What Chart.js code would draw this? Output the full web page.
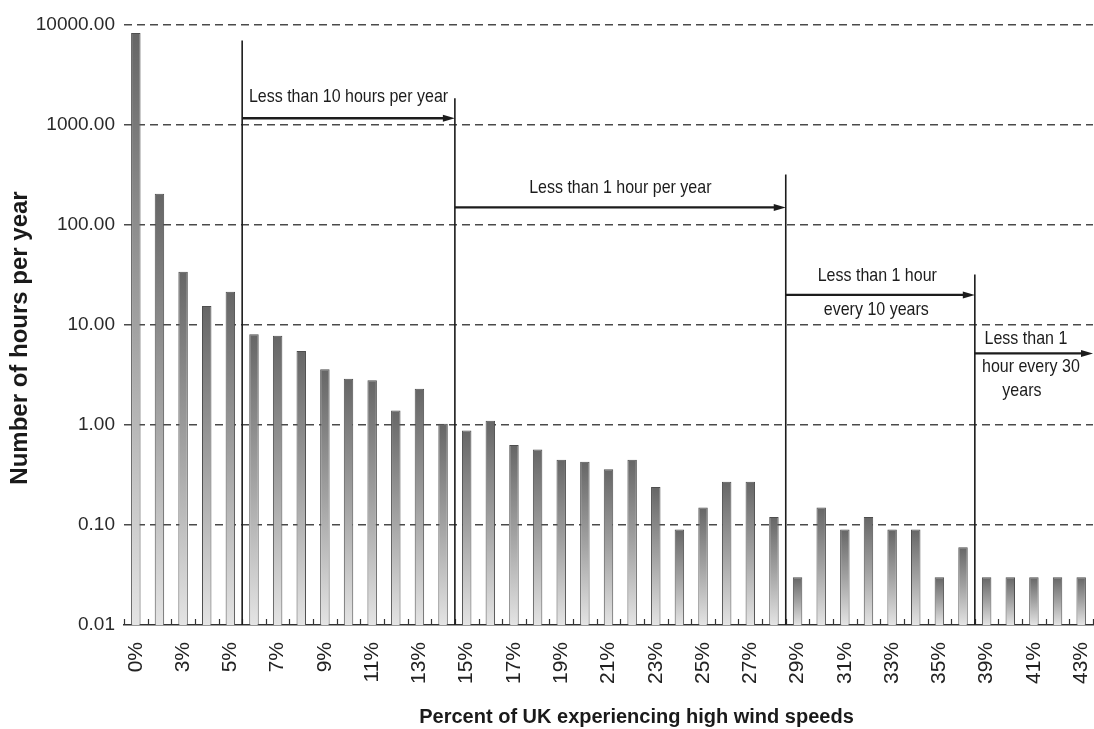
<!DOCTYPE html>
<html>
<head>
<meta charset="utf-8">
<script src="https://cdn.jsdelivr.net/npm/chart.js@4/dist/chart.umd.min.js"></script>
<style>
  html, body { margin: 0; padding: 0; background: #ffffff; }
  #wrap { width: 1094px; height: 729px; }
</style>
</head>
<body>
<div id="wrap"><canvas id="chart" width="1094" height="729"></canvas></div>
<script>
// Share of the UK experiencing high wind speeds (category axis)
const categories = [
  '0%', '2%', '3%', '4%', '5%', '6%', '7%', '8%', '9%', '10%',
  '11%', '12%', '13%', '14%', '15%', '16%', '17%', '18%', '19%', '20%',
  '21%', '22%', '23%', '24%', '25%', '26%', '27%', '28%', '29%', '30%',
  '31%', '32%', '33%', '34%', '35%', '36%', '39%', '40%', '41%', '42%', '43%'
];

// Number of hours per year
const hoursPerYear = [
  8300, 205, 34, 15.5, 21.5, 8.1, 7.8, 5.5, 3.6, 2.9,
  2.8, 1.4, 2.3, 1.03, 0.88, 1.1, 0.63, 0.57, 0.45, 0.43,
  0.36, 0.45, 0.24, 0.09, 0.15, 0.27, 0.27, 0.12, 0.03, 0.15,
  0.09, 0.12, 0.09, 0.09, 0.03, 0.06, 0.03, 0.03, 0.03, 0.03, 0.03
];

// Log-axis tick values
const yTickValues = [0.01, 0.1, 1, 10, 100, 1000, 10000];

// Return-period regions: boundaries are category-index positions between bars
const regionBounds = [4.5, 13.5, 27.5, 35.5, 40.5];
const dividerTops = [7000, 1850, 320, 32];      // hours/year level where each divider ends
const arrowLevels = [1170, 150, 20, 5.2];        // hours/year level of each region arrow
const regionNotes = [
  ['Less than 10 hours per year'],
  ['Less than 1 hour per year'],
  ['Less than 1 hour', 'every 10 years'],
  ['Less than 1', 'hour every 30', 'years']
];

const yTitle = 'Number of hours per year';
const xTitle = 'Percent of UK experiencing high wind speeds';

const FONT = '"Liberation Sans", Arial, Helvetica, sans-serif';
const INK = '#1c1c1c';

// Pixel offsets of each note line relative to the arrow midpoint
const noteOffsets = [
  [[0, -21]],
  [[0, -19]],
  [[-3, -19], [-4, 15]],
  [[-8, -14], [-3, 14], [-12, 38]]
];

function barGradient(ctx) {
  const chart = ctx.chart;
  const area = chart.chartArea;
  if (!area || ctx.type !== 'data') return '#9a9a9a';
  const top = chart.scales.y.getPixelForValue(ctx.raw);
  const g = chart.ctx.createLinearGradient(0, top, 0, area.bottom);
  g.addColorStop(0, '#666666');
  g.addColorStop(0.5, '#a2a2a2');
  g.addColorStop(1, '#e4e4e4');
  return g;
}

// draws text slightly taller than wide, like the condensed annotation lettering
function tallText(ctx, text, x, y, stretch) {
  ctx.save();
  ctx.translate(x, y);
  ctx.scale(1, stretch);
  ctx.fillText(text, 0, 0);
  ctx.restore();
}

const regionPlugin = {
  id: 'regionMarkers',
  afterDatasetsDraw(chart) {
    const { ctx, chartArea } = chart;
    const xs = chart.scales.x;
    const ys = chart.scales.y;
    ctx.save();

    // small inward ticks between categories on the base axis
    ctx.strokeStyle = '#333333';
    ctx.lineWidth = 1.2;
    for (let i = 0; i <= categories.length; i++) {
      const x = Math.round(xs.getPixelForValue(i - 0.5)) + 0.5;
      ctx.beginPath();
      ctx.moveTo(x, chartArea.bottom);
      ctx.lineTo(x, chartArea.bottom - 6);
      ctx.stroke();
    }

    // divider lines
    ctx.strokeStyle = INK;
    ctx.lineWidth = 1.6;
    dividerTops.forEach((v, i) => {
      const x = xs.getPixelForValue(regionBounds[i]);
      ctx.beginPath();
      ctx.moveTo(x, ys.getPixelForValue(v));
      ctx.lineTo(x, chartArea.bottom);
      ctx.stroke();
    });

    // arrows and notes
    arrowLevels.forEach((v, i) => {
      const x0 = xs.getPixelForValue(regionBounds[i]);
      const x1 = Math.min(xs.getPixelForValue(regionBounds[i + 1]), chartArea.right);
      const y = ys.getPixelForValue(v);
      const head = 12;
      ctx.strokeStyle = INK;
      ctx.fillStyle = INK;
      ctx.lineWidth = 2.4;
      ctx.beginPath();
      ctx.moveTo(x0, y);
      ctx.lineTo(x1 - head + 2, y);
      ctx.stroke();
      ctx.beginPath();
      ctx.moveTo(x1, y);
      ctx.lineTo(x1 - head, y - 3.5);
      ctx.lineTo(x1 - head, y + 3.5);
      ctx.closePath();
      ctx.fill();

      const mid = (x0 + x1) / 2;
      ctx.font = '16px ' + FONT;
      ctx.textAlign = 'center';
      ctx.textBaseline = 'middle';
      regionNotes[i].forEach((line, k) => {
        const [dx, dy] = noteOffsets[i][k];
        tallText(ctx, line, mid + dx, y + dy, 1.12);
      });
    });

    ctx.fillStyle = '#1a1a1a';
    ctx.textAlign = 'center';
    ctx.textBaseline = 'middle';

    // category-axis title
    ctx.font = 'bold 20px ' + FONT;
    ctx.fillText(xTitle, (chartArea.left + chartArea.right) / 2 + 28, chart.height - 12);

    // value-axis title, centred a little below the plot's middle
    ctx.translate(20, (chartArea.top + chartArea.bottom) / 2 + 13);
    ctx.rotate(-Math.PI / 2);
    ctx.font = 'bold 24px ' + FONT;
    ctx.fillText(yTitle, 0, 0);
    ctx.restore();
  }
};

new Chart(document.getElementById('chart'), {
  type: 'bar',
  data: {
    labels: categories,
    datasets: [{
      data: hoursPerYear,
      backgroundColor: barGradient,
      borderColor: '#4e4e4e',
      borderWidth: 1,
      barPercentage: 0.4,
      categoryPercentage: 1.0
    }]
  },
  options: {
    responsive: false,
    animation: false,
    layout: { padding: { top: 25, right: 1, left: 0, bottom: 0 } },
    plugins: { legend: { display: false }, tooltip: { enabled: false } },
    scales: {
      x: {
        offset: true,
        grid: { display: true, drawOnChartArea: false, drawTicks: false },
        border: { display: true, color: '#333333', width: 1.5 },
        ticks: {
          autoSkip: false,
          minRotation: 90,
          maxRotation: 90,
          padding: 17,
          color: '#222222',
          font: { family: FONT, size: 21 },
          callback: (v, i) => (i % 2 === 0 ? categories[i] : '')
        },
        afterFit: (s) => { s.height = 104; s.paddingLeft = 0; s.paddingRight = 0; }
      },
      y: {
        type: 'logarithmic',
        min: 0.01,
        max: 10000,
        afterBuildTicks: (s) => { s.ticks = yTickValues.map(v => ({ value: v })); },
        grid: {
          drawTicks: false,
          lineWidth: 1.5,
          color: (c) => (c.tick && c.tick.value === 0.01 ? 'rgba(0,0,0,0)' : '#4a4a4a')
        },
        border: { display: false, dash: [8, 5] },
        ticks: {
          padding: 9,
          color: '#2a2a2a',
          font: { family: FONT, size: 19 },
          callback: (v) => Number(v).toFixed(2)
        },
        afterFit: (s) => { s.width = 124; s.paddingTop = 0; s.paddingBottom = 0; }
      }
    }
  },
  plugins: [regionPlugin]
});
</script>
</body>
</html>
